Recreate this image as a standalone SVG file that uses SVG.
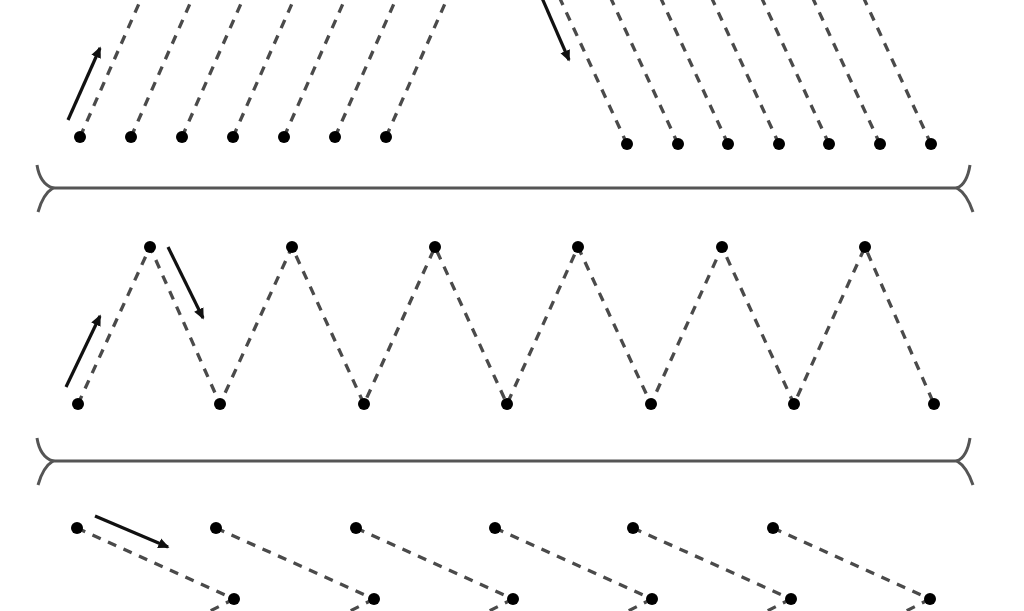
<svg xmlns="http://www.w3.org/2000/svg" width="1024" height="611" viewBox="0 0 1024 611">
<style>
.dash{stroke:#4a4a4a;stroke-width:3.3;stroke-dasharray:9 8;fill:none;stroke-linecap:butt}
.dot{fill:#000}
.brace{stroke:#555;stroke-width:3;fill:none}
.arrow{stroke:#111;stroke-width:3.2;fill:none;marker-end:url(#ah)}
</style>
<defs>
<marker id="ah" markerWidth="4" markerHeight="4" refX="3" refY="2" orient="auto" markerUnits="strokeWidth">
<path d="M0,0.4 L3.5,2 L0,3.6 Z" fill="#111"/>
</marker>
</defs>
<rect width="1024" height="611" fill="#fff"/>
<g id="connectors">
<line class="dash" x1="80" y1="137" x2="145" y2="-10"/>
<line class="dash" x1="131" y1="137" x2="196" y2="-10"/>
<line class="dash" x1="182" y1="137" x2="247" y2="-10"/>
<line class="dash" x1="233" y1="137" x2="298" y2="-10"/>
<line class="dash" x1="284" y1="137" x2="349" y2="-10"/>
<line class="dash" x1="335" y1="137" x2="400" y2="-10"/>
<line class="dash" x1="386" y1="137" x2="451" y2="-10"/>
<line class="dash" x1="627" y1="144" x2="556" y2="-10"/>
<line class="dash" x1="678" y1="144" x2="607" y2="-10"/>
<line class="dash" x1="728" y1="144" x2="657" y2="-10"/>
<line class="dash" x1="779" y1="144" x2="708" y2="-10"/>
<line class="dash" x1="829" y1="144" x2="758" y2="-10"/>
<line class="dash" x1="880" y1="144" x2="809" y2="-10"/>
<line class="dash" x1="931" y1="144" x2="860" y2="-10"/>
<polyline class="dash" points="78,404 150,247 220,404 292,247 364,404 435,247 507,404 578,247 651,404 722,247 794,404 865,247 934,404"/>
<line class="dash" x1="77" y1="528" x2="234" y2="599"/>
<line class="dash" x1="216" y1="528" x2="374" y2="599"/>
<line class="dash" x1="356" y1="528" x2="513" y2="599"/>
<line class="dash" x1="495" y1="528" x2="652" y2="599"/>
<line class="dash" x1="633" y1="528" x2="791" y2="599"/>
<line class="dash" x1="773" y1="528" x2="930" y2="599"/>
<line class="dash" x1="234" y1="599" x2="200" y2="616"/>
<line class="dash" x1="374" y1="599" x2="340" y2="616"/>
<line class="dash" x1="513" y1="599" x2="479" y2="616"/>
<line class="dash" x1="652" y1="599" x2="618" y2="616"/>
<line class="dash" x1="791" y1="599" x2="757" y2="616"/>
<line class="dash" x1="930" y1="599" x2="896" y2="616"/>
</g>
<g id="arrows">
<line class="arrow" x1="68" y1="120" x2="100" y2="48"/>
<line class="arrow" x1="542" y1="-2" x2="569" y2="60"/>
<line class="arrow" x1="66" y1="387" x2="100" y2="316"/>
<line class="arrow" x1="168" y1="247" x2="203" y2="318"/>
<line class="arrow" x1="95" y1="516" x2="168" y2="547"/>
</g>
<g id="brace1">
<path class="brace" d="M52,188 H958"/>
<path class="brace" d="M37,165 Q40,184 53,188 Q43,194 38,212"/>
<path class="brace" d="M970,165 Q967,184 957,188 Q967,194 973,212"/>
</g>
<g id="brace2">
<path class="brace" d="M52,461 H958"/>
<path class="brace" d="M37,438 Q40,457 53,461 Q43,467 38,485"/>
<path class="brace" d="M970,438 Q967,457 957,461 Q967,467 973,485"/>
</g>
<g id="nodes-top">
<circle class="dot" cx="80" cy="137" r="6"/>
<circle class="dot" cx="131" cy="137" r="6"/>
<circle class="dot" cx="182" cy="137" r="6"/>
<circle class="dot" cx="233" cy="137" r="6"/>
<circle class="dot" cx="284" cy="137" r="6"/>
<circle class="dot" cx="335" cy="137" r="6"/>
<circle class="dot" cx="386" cy="137" r="6"/>
<circle class="dot" cx="627" cy="144" r="6"/>
<circle class="dot" cx="678" cy="144" r="6"/>
<circle class="dot" cx="728" cy="144" r="6"/>
<circle class="dot" cx="779" cy="144" r="6"/>
<circle class="dot" cx="829" cy="144" r="6"/>
<circle class="dot" cx="880" cy="144" r="6"/>
<circle class="dot" cx="931" cy="144" r="6"/>
</g>
<g id="nodes-middle">
<circle class="dot" cx="150" cy="247" r="6"/>
<circle class="dot" cx="292" cy="247" r="6"/>
<circle class="dot" cx="435" cy="247" r="6"/>
<circle class="dot" cx="578" cy="247" r="6"/>
<circle class="dot" cx="722" cy="247" r="6"/>
<circle class="dot" cx="865" cy="247" r="6"/>
<circle class="dot" cx="78" cy="404" r="6"/>
<circle class="dot" cx="220" cy="404" r="6"/>
<circle class="dot" cx="364" cy="404" r="6"/>
<circle class="dot" cx="507" cy="404" r="6"/>
<circle class="dot" cx="651" cy="404" r="6"/>
<circle class="dot" cx="794" cy="404" r="6"/>
<circle class="dot" cx="934" cy="404" r="6"/>
</g>
<g id="nodes-bottom">
<circle class="dot" cx="77" cy="528" r="6"/>
<circle class="dot" cx="216" cy="528" r="6"/>
<circle class="dot" cx="356" cy="528" r="6"/>
<circle class="dot" cx="495" cy="528" r="6"/>
<circle class="dot" cx="633" cy="528" r="6"/>
<circle class="dot" cx="773" cy="528" r="6"/>
<circle class="dot" cx="234" cy="599" r="6"/>
<circle class="dot" cx="374" cy="599" r="6"/>
<circle class="dot" cx="513" cy="599" r="6"/>
<circle class="dot" cx="652" cy="599" r="6"/>
<circle class="dot" cx="791" cy="599" r="6"/>
<circle class="dot" cx="930" cy="599" r="6"/>
</g>
</svg>
